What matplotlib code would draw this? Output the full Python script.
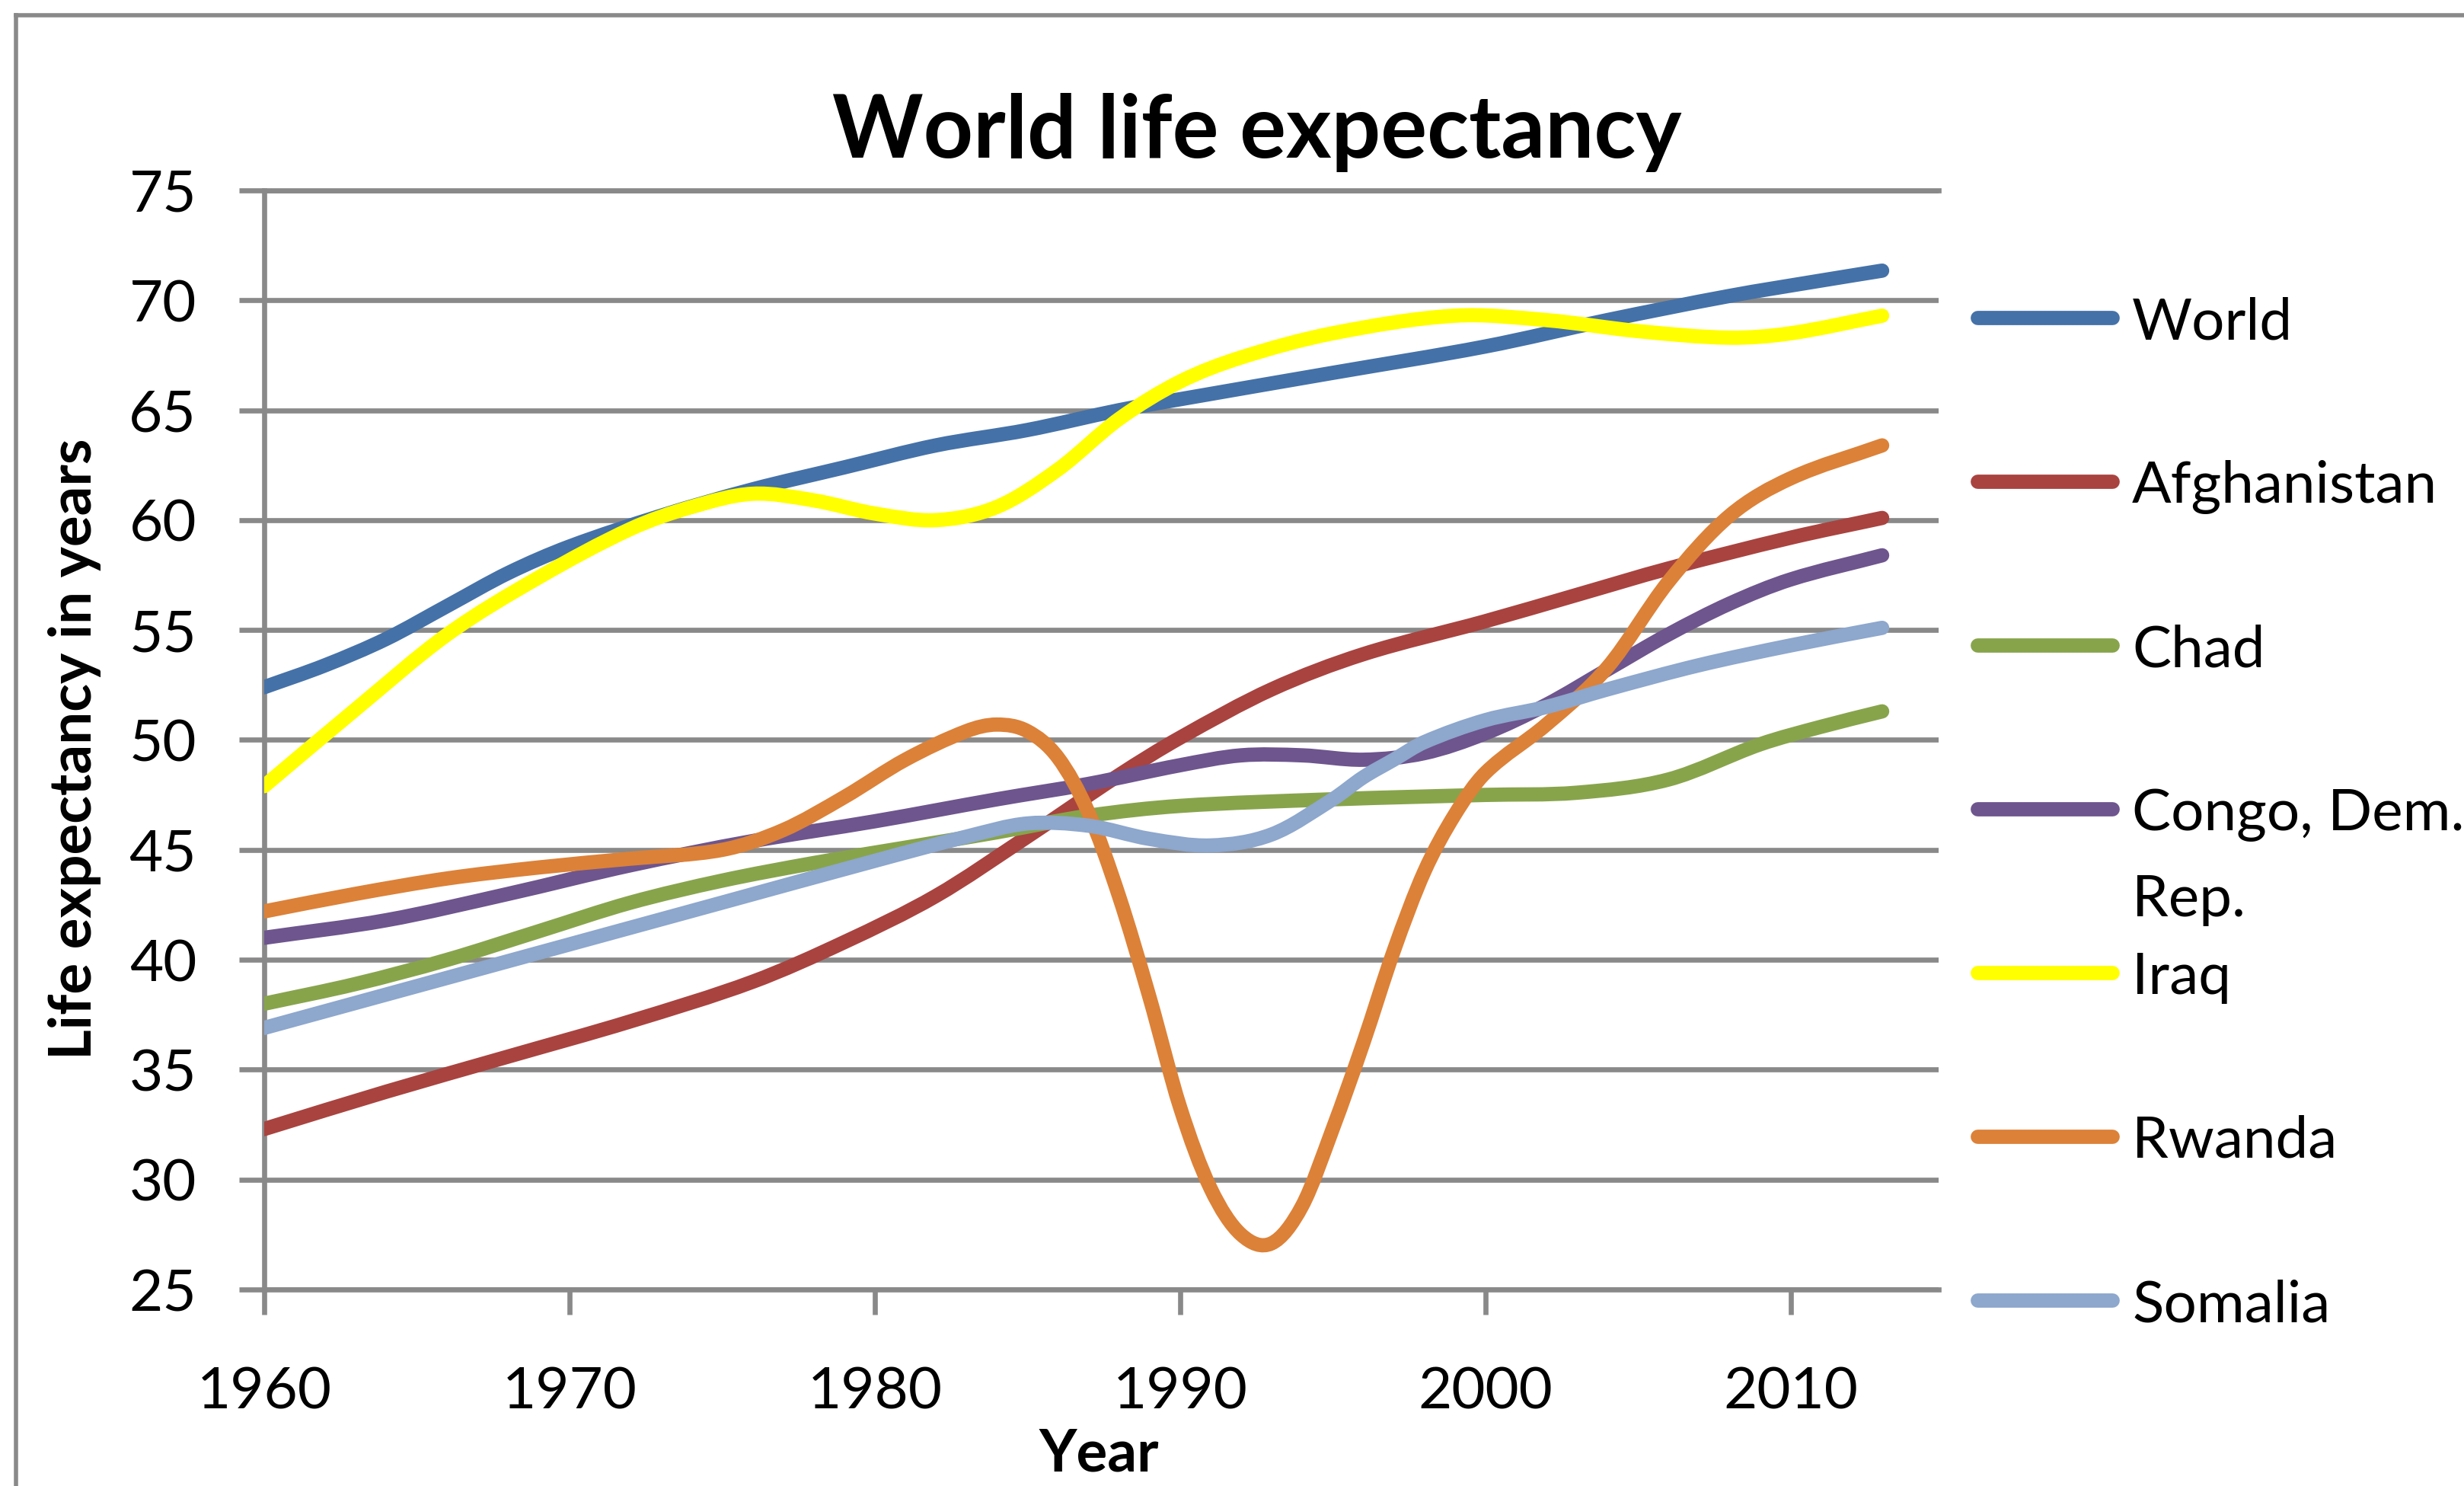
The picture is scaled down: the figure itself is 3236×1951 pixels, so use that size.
import numpy as np
import matplotlib
matplotlib.use("Agg")
import matplotlib.pyplot as plt
from matplotlib.path import Path
from matplotlib.patches import PathPatch
from matplotlib.lines import Line2D

plt.rcParams['font.family'] = ['Lato', 'DejaVu Sans']

# ---- data ----
world_years = [1960, 1962, 1964, 1966, 1968, 1970, 1973, 1976, 1979, 1982, 1985, 1988, 1990,
               1995, 2000, 2004, 2008, 2011, 2013]
world = [52.4, 53.4, 54.6, 56.1, 57.6, 58.8, 60.2, 61.4, 62.4, 63.4, 64.1, 65.0, 65.5,
         66.7, 67.9, 69.1, 70.2, 70.9, 71.35]

afgh_years = [1960, 1964, 1968, 1972, 1976, 1979, 1982, 1985, 1988, 1990, 1993, 1996,
              2000, 2003, 2006, 2010, 2013]
afgh = [32.3, 34.0, 35.6, 37.2, 39.0, 40.8, 42.9, 45.6, 48.4, 50.1, 52.3, 53.9,
        55.4, 56.6, 57.8, 59.2, 60.1]

chad_years = [1960, 1963, 1966, 1969, 1972, 1975, 1978, 1981, 1984, 1987, 1990, 1995,
              2000, 2003, 2006, 2009, 2011, 2013]
chad = [38.0, 38.9, 40.0, 41.3, 42.6, 43.6, 44.4, 45.1, 45.8, 46.55, 47.0, 47.3,
        47.5, 47.6, 48.2, 49.8, 50.6, 51.3]

congo_years = [1960, 1964, 1968, 1972, 1976, 1980, 1984, 1987, 1990, 1992, 1994, 1996,
               1998, 2000, 2002, 2004, 2006, 2008, 2010, 2013]
congo = [41.0, 41.8, 43.0, 44.3, 45.4, 46.3, 47.3, 48.0, 48.85, 49.3, 49.3, 49.1,
         49.4, 50.3, 51.6, 53.2, 54.8, 56.2, 57.3, 58.4]

iraq_years = [1960, 1963, 1966, 1969, 1972, 1974, 1976, 1978, 1980, 1982, 1984, 1986,
              1988, 1990, 1992, 1995, 1999, 2002, 2005, 2008, 2010, 2013]
iraq = [47.9, 51.4, 54.8, 57.4, 59.6, 60.6, 61.2, 60.9, 60.3, 60.0, 60.6, 62.3,
        64.6, 66.3, 67.4, 68.5, 69.3, 69.1, 68.6, 68.3, 68.5, 69.3]

rwanda_years = [1960, 1963, 1966, 1969, 1972, 1975, 1977, 1979, 1981, 1983, 1984, 1985,
                1986, 1987, 1988, 1989, 1990, 1991, 1992, 1993, 1994, 1995, 1996, 1997,
                1998, 1999, 2000, 2002, 2004, 2006, 2008, 2010, 2013]
rwanda = [42.2, 43.0, 43.7, 44.2, 44.6, 45.0, 45.9, 47.4, 49.1, 50.4, 50.7, 50.4,
          49.2, 46.7, 42.9, 38.3, 33.3, 29.6, 27.5, 27.1, 28.8, 32.3, 36.2, 40.4,
          44.0, 46.6, 48.5, 50.7, 53.3, 57.2, 60.2, 61.9, 63.4]

somalia_years = [1960, 1965, 1970, 1975, 1980, 1983, 1985, 1987, 1989, 1991, 1993, 1995,
                 1996, 1997, 1998, 2000, 2002, 2004, 2007, 2010, 2013]
somalia = [36.9, 38.8, 40.7, 42.6, 44.5, 45.6, 46.2, 46.1, 45.5, 45.2, 45.7, 47.3,
           48.3, 49.1, 49.9, 50.9, 51.5, 52.3, 53.4, 54.3, 55.1]

series_names = ["World", "Afghanistan", "Chad", "Congo, Dem.\nRep.", "Iraq", "Rwanda", "Somalia"]
series_years = [world_years, afgh_years, chad_years, congo_years, iraq_years, rwanda_years, somalia_years]
series_values = [world, afgh, chad, congo, iraq, rwanda, somalia]
series_colors = ["#4471A8", "#A9433F", "#87A44B", "#6E558E", "#FFFF00", "#DC8138", "#8DA7CD"]

x_ticks = [1960, 1970, 1980, 1990, 2000, 2010]
y_ticks = [25, 30, 35, 40, 45, 50, 55, 60, 65, 70, 75]

# ---- layout (pixels of the 3237 x 1951 output) ----
W, H = 3237, 1951
GRAY = "#898989"
LW = 13.5      # data line width, pt
GLW = 4.8      # grid / axis width, pt


def fx(px):
    return px / W


def fy(py):
    return 1 - py / H


def smooth_path(xs, ys):
    # Excel-like smoothed line: cubic segments with Catmull-Rom tangents
    x = np.asarray(xs, float)
    y = np.asarray(ys, float)
    m = np.empty(len(x))
    m[1:-1] = (y[2:] - y[:-2]) / (x[2:] - x[:-2])
    m[0] = (y[1] - y[0]) / (x[1] - x[0])
    m[-1] = (y[-1] - y[-2]) / (x[-1] - x[-2])
    verts = [(x[0], y[0])]
    codes = [Path.MOVETO]
    for i in range(len(x) - 1):
        h = x[i + 1] - x[i]
        verts += [(x[i] + h / 3, y[i] + m[i] * h / 3),
                  (x[i + 1] - h / 3, y[i + 1] - m[i + 1] * h / 3),
                  (x[i + 1], y[i + 1])]
        codes += [Path.CURVE4] * 3
    return Path(verts, codes)


fig = plt.figure(figsize=(W / 100, H / 100), dpi=100)
ax = fig.add_axes([fx(347), fy(1693), fx(2546) - fx(347), fy(250) - fy(1693)])

for yrs, vals, col in zip(series_years, series_values, series_colors):
    ax.add_patch(PathPatch(smooth_path(yrs, vals), facecolor="none", edgecolor=col,
                           lw=LW, capstyle="round", joinstyle="round", zorder=3))

ax.set_xlim(1960, 2014.85)
ax.set_ylim(25, 75)
ax.set_xticks(x_ticks)
ax.set_yticks(y_ticks)
ax.yaxis.grid(True, color=GRAY, lw=GLW)
ax.set_axisbelow(True)
for side in ["left", "top", "bottom"]:
    ax.spines[side].set_color(GRAY)
    ax.spines[side].set_linewidth(GLW)
ax.spines["right"].set_visible(False)
ax.tick_params(axis="both", direction="out", length=24, width=GLW, color=GRAY,
               labelsize=55, labelcolor="black")
ax.tick_params(axis="x", pad=48)
ax.tick_params(axis="y", pad=40)

# titles
fig.text(fx(1651), fy(207), "World life expectancy", ha="center", va="baseline",
         fontsize=82, fontweight="bold")
fig.text(fx(1443), fy(1931), "Year", ha="center", va="baseline",
         fontsize=55, fontweight="bold")
fig.text(fx(120), fy(983), "Life expectancy in years", rotation=90, rotation_mode="anchor",
         ha="center", va="baseline", fontsize=55, fontweight="bold")

# legend on the right
y0, step = 417, 215
for i, (name, col) in enumerate(zip(series_names, series_colors)):
    yy = y0 + i * step
    fig.add_artist(Line2D([fx(2597), fx(2774)], [fy(yy), fy(yy)], color=col, lw=LW,
                          solid_capstyle="round"))
    for j, line in enumerate(name.split("\n")):
        fig.text(fx(2800), fy(yy + 28 + j * 113), line, ha="left", va="baseline",
                 fontsize=55)

# chart frame (left and top edges visible)
fig.add_artist(Line2D([fx(21), fx(21)], [fy(20), 0], color=GRAY, lw=4, solid_capstyle="projecting"))
fig.add_artist(Line2D([fx(21), 1], [fy(20), fy(20)], color=GRAY, lw=4, solid_capstyle="projecting"))

fig.savefig("out.png", dpi=100)
